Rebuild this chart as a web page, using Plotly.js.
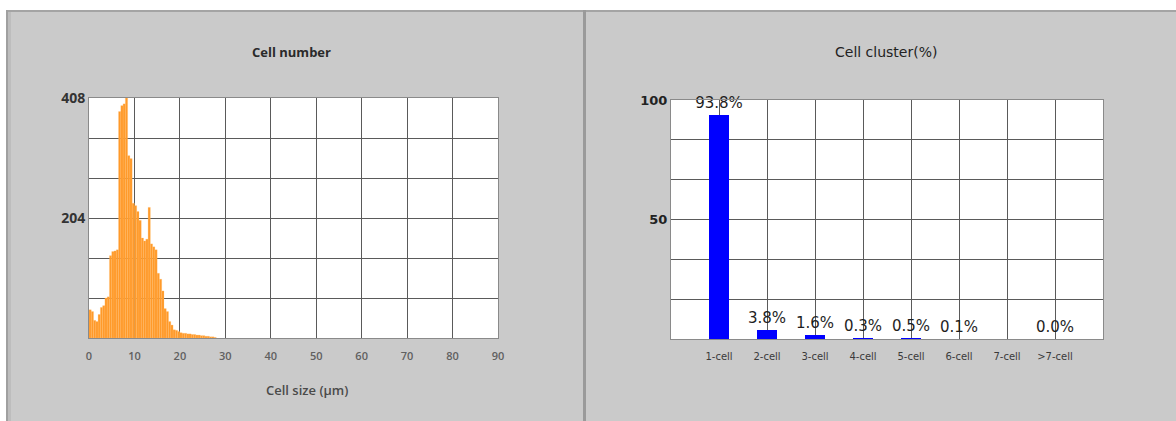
<!DOCTYPE html>
<html>
<head>
<meta charset="utf-8">
<script src="https://cdn.plot.ly/plotly-3.0.1.min.js"></script>
<style>
html,body{margin:0;padding:0;background:#ffffff;}
#chart{width:1176px;height:421px;}
</style>
</head>
<body>
<div id="chart"></div>
<script>
// ---- Data: cell size histogram (bin left edges, µm) ----
var binEdges = [0,0.5,1,1.5,2,2.5,3,3.5,4,4.5,5,5.5,6,6.5,7,7.5,8,8.5,9,9.5,
  10,10.5,11,11.5,12,12.5,13,13.5,14,14.5,15,15.5,16,16.5,17,17.5,18,18.5,19,19.5,
  20,20.5,21,21.5,22,22.5,23,23.5,24,24.5,25,25.5,26,26.5,27,27.5];
var binWidth = 0.5;
var cellCounts = [48,45,30,28,40,52,55,68,70,140,147,148,150,385,395,398,408,310,305,229,
  225,215,200,170,165,168,222,160,155,150,110,100,80,50,45,28,22,14,13,11,
  9,8,8,7,7,6,6,5,5,4,4,3,3,2,2,1];
var sizeTicks = [0,10,20,30,40,50,60,70,80,90];
var countTickVals = [0,68,136,204,272,340,408];
var countTickText = ['','','','204','','','408'];

// ---- Data: cell cluster percentages ----
var clusterCats = ['1-cell','2-cell','3-cell','4-cell','5-cell','6-cell','7-cell','>7-cell'];
var clusterPos = [1,2,3,4,5,6,7,8];
var clusterPct = [93.8,3.8,1.6,0.3,0.5,0.1,null,0.0];
var clusterLabels = ['93.8%','3.8%','1.6%','0.3%','0.5%','0.1%','','0.0%'];
var pctTickVals = [0,16.667,33.333,50,66.667,83.333,100];
var pctTickText = ['','','','50','','','100'];

var W = 1176, H = 421;
function px(x){return x/W;}
function py(y){return 1 - y/H;}

var histX = binEdges.map(function(e){return e + binWidth/2;});

var traces = [
  {
    type:'bar', x:histX, y:cellCounts, width:binWidth,
    xaxis:'x', yaxis:'y',
    marker:{color:'#ff9a2a', line:{color:'rgba(255,190,110,0.6)', width:0.4}},
    hoverinfo:'skip', showlegend:false
  },
  {
    type:'bar', x:clusterPos, y:clusterPct, width:0.42,
    xaxis:'x2', yaxis:'y2',
    marker:{color:'#0000ff'},
    text:clusterLabels, textposition:'outside', cliponaxis:false,
    constraintext:'none',
    textfont:{family:'DejaVu Sans', size:15, color:'#1e1e1e'},
    hoverinfo:'skip', showlegend:false
  }
];

var grid = '#5a5a5a';
var layout = {
  width:W, height:H,
  margin:{l:0,r:0,t:0,b:0},
  paper_bgcolor:'#cacaca',
  plot_bgcolor:'#ffffff',
  bargap:0,
  xaxis:{
    domain:[px(89), px(498)], anchor:'y', range:[0,90],
    tickvals:sizeTicks, ticks:'outside', ticklen:8, tickcolor:'rgba(0,0,0,0)',
    showgrid:true, gridcolor:grid, gridwidth:1, zeroline:false,
    showline:true, linecolor:'#8a8a8a', mirror:true,
    tickfont:{family:'Open Sans', size:11, color:'#606060', weight:600}
  },
  yaxis:{
    domain:[py(338), py(98)], anchor:'x', range:[0,408],
    tickvals:countTickVals, ticktext:countTickText, ticks:'',
    showgrid:true, gridcolor:grid, gridwidth:1, zeroline:false,
    showline:true, linecolor:'#8a8a8a', mirror:true,
    tickfont:{family:'Open Sans', size:14, color:'#333333', weight:'bold'}
  },
  xaxis2:{
    domain:[px(671), px(1103)], anchor:'y2', range:[0,9],
    tickvals:clusterPos, ticktext:clusterCats, ticks:'outside', ticklen:8, tickcolor:'rgba(0,0,0,0)',
    showgrid:true, gridcolor:grid, gridwidth:1, zeroline:false,
    showline:true, linecolor:'#8a8a8a', mirror:true,
    tickfont:{family:'DejaVu Sans', size:10, color:'#3a3a3a'}
  },
  yaxis2:{
    domain:[py(339), py(100)], anchor:'x2', range:[0,100],
    tickvals:pctTickVals, ticktext:pctTickText, ticks:'',
    showgrid:true, gridcolor:grid, gridwidth:1, zeroline:false,
    showline:true, linecolor:'#8a8a8a', mirror:true,
    tickfont:{family:'DejaVu Sans', size:13, color:'#222222', weight:'bold'}
  },
  shapes:[
    {type:'rect', xref:'paper', yref:'paper', x0:0, x1:1, y0:py(10), y1:1, fillcolor:'#ffffff', line:{width:0}, layer:'below'},
    {type:'rect', xref:'paper', yref:'paper', x0:0, x1:px(6), y0:0, y1:1, fillcolor:'#ffffff', line:{width:0}, layer:'below'},
    {type:'line', xref:'paper', yref:'paper', x0:px(6), x1:1, y0:py(11), y1:py(11), line:{color:'#a4a4a4', width:2}, layer:'below'},
    {type:'line', xref:'paper', yref:'paper', x0:px(7), x1:px(7), y0:0, y1:py(10), line:{color:'#a0a0a0', width:2}, layer:'below'},
    {type:'line', xref:'paper', yref:'paper', x0:px(9.5), x1:px(9.5), y0:0, y1:py(12), line:{color:'#bdbdbd', width:3}, layer:'below'},
    {type:'line', xref:'paper', yref:'paper', x0:px(584.5), x1:px(584.5), y0:0, y1:py(10), line:{color:'#9a9a9a', width:3}, layer:'below'}
  ],
  annotations:[
    {xref:'paper', yref:'paper', x:px(291), y:py(52), text:'Cell number', showarrow:false,
     font:{family:'Open Sans', size:13, color:'#2a2a2a', weight:'bold'}, xanchor:'center', yanchor:'middle'},
    {xref:'paper', yref:'paper', x:px(307), y:py(390), text:'Cell size (μm)', showarrow:false,
     font:{family:'Open Sans', size:13, color:'#4a4a4a', weight:600}, xanchor:'center', yanchor:'middle'},
    {xref:'paper', yref:'paper', x:px(886), y:py(52), text:'Cell cluster(%)', showarrow:false,
     font:{family:'DejaVu Sans', size:14, color:'#222222'}, xanchor:'center', yanchor:'middle'}
  ]
};

Plotly.newPlot('chart', traces, layout, {staticPlot:true, displayModeBar:false});
</script>
</body>
</html>
